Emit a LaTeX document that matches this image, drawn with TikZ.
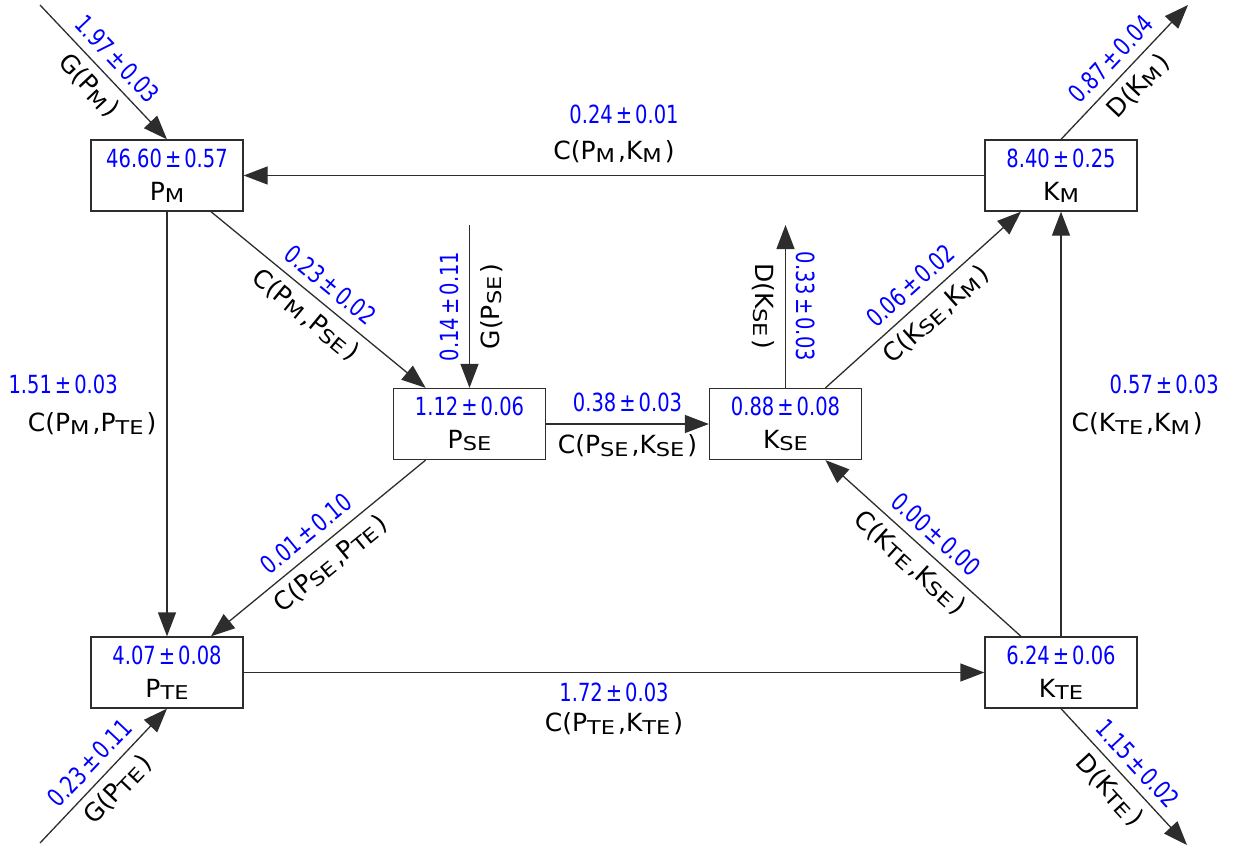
\documentclass[tikz,border=0pt]{standalone}
\usepackage{fontspec}
\usepackage{graphicx}
\setmainfont{DejaVu Sans}
\newfontfamily\numfont{DejaVu Sans}[FakeStretch=0.78]
\usetikzlibrary{arrows.meta, positioning}
\definecolor{valblue} {RGB}{0,0,255}
\definecolor{linegray}{RGB}{45,45,45}
\newcommand{\sbs}[1]{\raisebox{-2.5pt}{\scalebox{0.9}[0.76]{#1}}\hspace{3pt}}
\newcommand{\val}[2]{\textcolor{valblue}{\numfont #1\hspace{3pt}±\hspace{3pt}#2}}
\tikzset{
  pool/.style={draw=linegray, line width=1.3pt, minimum width=152pt,
               minimum height=71pt, align=center, inner sep=0pt,
               font=\fontsize{25}{33}\selectfont},
  flow/.style={draw=linegray, line width=1.3pt,
               -{Triangle[length=24pt, width=18pt]}},
  lab/.style={inner sep=0pt, font=\fontsize{25}{30}\selectfont}
}

\begin{document}
\begin{tikzpicture}[x=1pt, y=-1pt]
  \useasboundingbox (0,0) rectangle (1235,848);

  % compartments
  \node[pool] (pm)  at (167,175.5)  {\val{46.60}{0.57}\\P\sbs{M}};
  \node[pool] (km)  at (1061,175.5) {\val{8.40}{0.25}\\K\sbs{M}};
  \node[pool] (pse) at (469.5,424)  {\val{1.12}{0.06}\\P\sbs{SE}};
  \node[pool] (kse) at (785.5,424)  {\val{0.88}{0.08}\\K\sbs{SE}};
  \node[pool] (pte) at (167,672.5)  {\val{4.07}{0.08}\\P\sbs{TE}};
  \node[pool] (kte) at (1061,672.5) {\val{6.24}{0.06}\\K\sbs{TE}};

  % sources and sinks
  \coordinate (gpm)  at (40,5);
  \coordinate (dkm)  at (1188,5);
  \coordinate (gpte) at (40,843);
  \coordinate (dkte) at (1187,845);
  \coordinate (gpse) at (469.5,225);
  \coordinate (dkse) at (785.5,225);

  \draw[flow] (gpm) -- (pm.north)
    node[lab, midway, sloped, above=9pt] {\val{1.97}{0.03}}
    node[lab, midway, sloped, below=8pt] {G(P\sbs{M})};
  \draw[flow] (km.north) -- (dkm)
    node[lab, midway, sloped, above=9pt] {\val{0.87}{0.04}}
    node[lab, midway, sloped, below=8pt] {D(K\sbs{M})};
  \draw[flow] (gpte) -- (pte.south)
    node[lab, midway, sloped, above=9pt] {\val{0.23}{0.11}}
    node[lab, midway, sloped, below=8pt] {G(P\sbs{TE})};
  \draw[flow] (kte.south) -- (dkte)
    node[lab, midway, sloped, above=9pt] {\val{1.15}{0.02}}
    node[lab, midway, sloped, below=8pt] {D(K\sbs{TE})};
  \draw[flow] (gpse) -- (pse.north)
    node[lab, midway, xshift=-10pt, rotate=90, anchor=south] {\val{0.14}{0.11}}
    node[lab, midway, xshift=10pt, rotate=90, anchor=north] {G(P\sbs{SE})};
  \draw[flow] (kse.north) -- (dkse)
    node[lab, midway, xshift=10pt, rotate=-90, anchor=south] {\val{0.33}{0.03}}
    node[lab, midway, xshift=-10pt, rotate=-90, anchor=north] {D(K\sbs{SE})};

  % exchanges
  \draw[flow] (pm) -- (pse)
    node[lab, midway, sloped, above=9pt] {\val{0.23}{0.02}}
    node[lab, midway, sloped, below=8pt] {C(P\sbs{M},P\sbs{SE})};
  \draw[flow] (kse) -- (km)
    node[lab, midway, sloped, above=9pt] {\val{0.06}{0.02}}
    node[lab, midway, sloped, below=8pt] {C(K\sbs{SE},K\sbs{M})};
  \draw[flow] (pse) -- (pte)
    node[lab, midway, sloped, above=9pt] {\val{0.01}{0.10}}
    node[lab, midway, sloped, below=8pt] {C(P\sbs{SE},P\sbs{TE})};
  \draw[flow] (kte) -- (kse)
    node[lab, midway, sloped, above=9pt] {\val{0.00}{0.00}}
    node[lab, midway, sloped, below=8pt] {C(K\sbs{TE},K\sbs{SE})};
  \draw[flow] (pse) -- (kse)
    node[lab, midway, above=11pt] {\val{0.38}{0.03}}
    node[lab, midway, below=10pt] {C(P\sbs{SE},K\sbs{SE})};

  \draw[flow] (km) -- (pm)
    node[lab, midway, above=12pt] (lbkmpm) {C(P\sbs{M},K\sbs{M})};
  \node[lab, above=16pt of lbkmpm, xshift=10pt] {\val{0.24}{0.01}};
  \draw[flow] (pte) -- (kte)
    node[lab, midway, below=10pt] (lbptekte) {\val{1.72}{0.03}};
  \node[lab, below=10pt of lbptekte] {C(P\sbs{TE},K\sbs{TE})};
  \draw[flow] (pm) -- (pte)
    node[lab, midway, left=10pt] (lbpmpte) {C(P\sbs{M},P\sbs{TE})};
  \node[lab, above=18pt of lbpmpte, xshift=-29pt] {\val{1.51}{0.03}};
  \draw[flow] (kte) -- (km)
    node[lab, midway, right=10pt] (lbktekm) {C(K\sbs{TE},K\sbs{M})};
  \node[lab, above=18pt of lbktekm, xshift=27pt] {\val{0.57}{0.03}};
\end{tikzpicture}
\end{document}
